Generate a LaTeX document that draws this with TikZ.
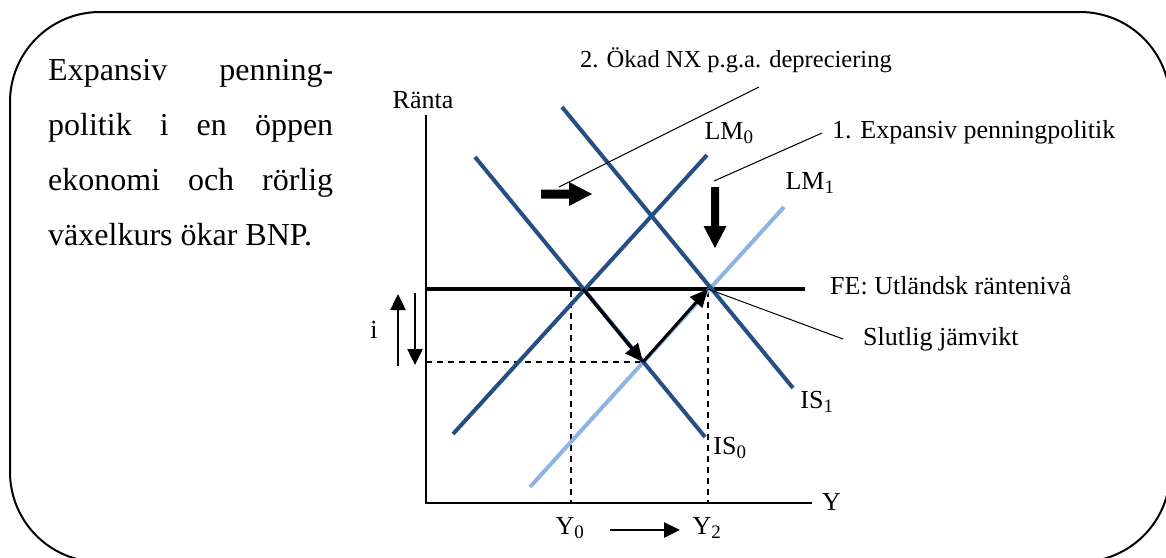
\documentclass[tikz,border=0pt]{standalone}
\usepackage{fontspec}
\setmainfont{Liberation Serif}
\usetikzlibrary{arrows.meta}
\newcommand\sbs[1]{$_{\mbox{\fontsize{19}{19}\selectfont #1}}$}
\definecolor{dblue}{RGB}{36,78,134}
\definecolor{lblue}{RGB}{141,180,226}
\begin{document}
\begin{tikzpicture}[x=1pt,y=-1pt,
  lbl/.style={font=\fontsize{26}{30}\selectfont, inner sep=0pt},
  bigtxt/.style={font=\fontsize{32}{36}\selectfont, inner sep=0pt, anchor=base west},
  curve/.style={line width=4pt},
  thinline/.style={line width=1pt},
  dashln/.style={line width=1.5pt, dash pattern=on 6pt off 5pt},
  tipline/.style={-{Triangle[length=18pt,width=16pt]}, line width=3pt},
  smarrow/.style={-{Triangle[length=16pt,width=15pt]}, line width=2.5pt},
  blk/.style={fill=black, draw=none}]
\useasboundingbox (0,0) rectangle (1166,557);
\draw[line width=2pt, rounded corners=90pt] (10,12) rectangle (1170,562);

% left text
\node[bigtxt] (l1) at (48,80) {\makebox[285pt][s]{Expansiv penning-}};
\node[bigtxt] (l2) at (48,135) {\makebox[285pt][s]{politik i en öppen}};
\node[bigtxt] (l3) at (48,190) {\makebox[285pt][s]{ekonomi och rörlig}};
\node[bigtxt] (l4) at (48,245) {växelkurs ökar BNP.};

% axes
\coordinate (O) at (426,503);
\coordinate (Ytop) at (426,115);
\coordinate (Xend) at (812,503);
\draw[line width=2.5pt] (Ytop) -- (O) -- (Xend);
\node[lbl] (renta) at (423,100) {Ränta};
\node[lbl, anchor=west] (ylab) at (822,502) {Y};

% intersection points
\coordinate (E0) at (583,289);
\coordinate (E1) at (643,362);
\coordinate (E2) at (708,289);

% dashed guides
\draw[dashln] (426,362) -- (E1);
\draw[dashln] (571,291) -- (571,503);
\draw[dashln] (708,291) -- (708,503);

% FE line
\coordinate (FEa) at (426,289);
\coordinate (FEb) at (805,289);
\draw[line width=4pt] (FEa) -- (FEb);

% curves
\coordinate (IS0a) at (475,157); \coordinate (IS0b) at (705,437);
\coordinate (IS1a) at (562,107); \coordinate (IS1b) at (793,388);
\coordinate (LM0a) at (453,434); \coordinate (LM0b) at (707,155);
\coordinate (LM1a) at (530,487); \coordinate (LM1b) at (784,207);
\draw[curve, lblue] (LM1a) -- (LM1b);
\draw[curve, dblue] (IS0a) -- (IS0b);
\draw[curve, dblue] (IS1a) -- (IS1b);
\draw[curve, dblue] (LM0a) -- (LM0b);

% curve labels
\node[lbl] (lm0) at (729,133) {LM\sbs{0}};
\node[lbl] (lm1) at (810,183) {LM\sbs{1}};
\node[lbl] (is1) at (817,402) {IS\sbs{1}};
\node[lbl] (is0) at (730,448) {IS\sbs{0}};
\node[lbl] (y0) at (570,528) {Y\sbs{0}};
\node[lbl] (y2) at (707,528) {Y\sbs{2}};

% adjustment path
\draw[tipline] (E0) -- (E1);
\draw[tipline] (E1) -- (E2);

% Y0 -> Y2 arrow
\coordinate (ya) at (610,530); \coordinate (yb) at (680,530);
\draw[smarrow] (ya) -- (yb);

% i arrows
\coordinate (iu1) at (398,366); \coordinate (iu2) at (398,294);
\coordinate (id1) at (415,293); \coordinate (id2) at (415,365);
\draw[smarrow] (iu1) -- (iu2);
\draw[smarrow] (id1) -- (id2);
\node[lbl] (ilab) at (374,330) {i};

% block arrows
\fill[blk] (541,189.5) -- (569,189.5) -- (569,182) -- (592,194) -- (569,206) -- (569,198.5) -- (541,198.5) -- cycle;
\fill[blk] (711,187) -- (719,187) -- (719,226) -- (726.5,226) -- (715,248) -- (703.5,226) -- (711,226) -- cycle;

% callouts
\node[lbl, anchor=west, font=\fontsize{24.5}{28}\selectfont] (t2) at (580,60) {2. Ökad NX p.g.a. depreciering};
\coordinate (c2a) at (759,87); \coordinate (c2b) at (559,187);
\draw[thinline] (c2a) -- (c2b);
\node[lbl, anchor=west] (t1) at (832,132) {1. Expansiv penningpolitik};
\coordinate (c1a) at (822,133); \coordinate (c1b) at (714,181);
\draw[thinline] (c1a) -- (c1b);
\node[lbl, anchor=west] (tfe) at (830,285) {FE: Utländsk räntenivå};
\node[lbl, anchor=west] (tsj) at (863,339) {Slutlig jämvikt};
\coordinate (csj) at (843,339);
\draw[thinline] (E2) -- (csj);
\end{tikzpicture}
\end{document}
